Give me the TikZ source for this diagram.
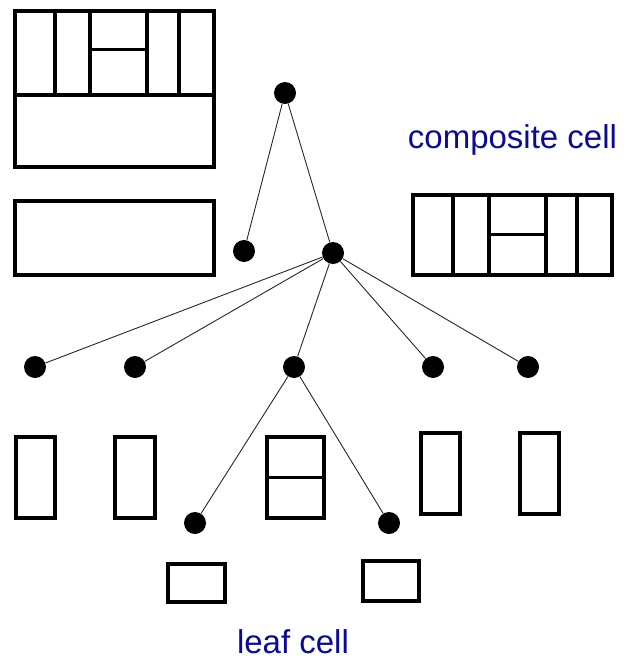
\documentclass[tikz,border=0pt]{standalone}
\usepackage{fontspec}
\setmainfont{Liberation Sans}
\definecolor{labelblue}{RGB}{10,10,150}
\begin{document}
\begin{tikzpicture}[x=1pt,y=-1pt,
  cellwall/.style={line width=4pt, line join=miter},
  cellsplit/.style={line width=3pt},
  dot/.style={circle, fill=black, minimum size=22pt, inner sep=0pt},
  branch/.style={line width=0.9pt, draw=black!85},
  celllabel/.style={text=labelblue, font=\fontsize{33}{36}\selectfont, anchor=base, inner sep=0pt}]
\useasboundingbox (0,0) rectangle (625,664);

% large composite cell, top left
\draw[cellwall] (15,11) rectangle (214,167);
\draw[cellwall] (15,95) -- (214,95);
\foreach \x in {55,90,147,179} \draw[cellwall] (\x,11) -- (\x,95);
\draw[cellsplit] (90,49) -- (147,49);

% plain cell below it
\draw[cellwall] (15,201) rectangle (214,275);

% composite cell, right
\draw[cellwall] (413,195) rectangle (612,275);
\foreach \x in {453,489,546,577} \draw[cellwall] (\x,195) -- (\x,275);
\draw[cellsplit] (489,234) -- (546,234);

% leaf cells of the second level
\draw[cellwall] (16,437) rectangle (55,518);
\draw[cellwall] (115,437) rectangle (155,518);
\draw[cellwall] (267,437) rectangle (324,518);
\draw[cellsplit] (267,477) -- (324,477);
\draw[cellwall] (421,433) rectangle (460,514);
\draw[cellwall] (520,433) rectangle (559,514);

% leaf cells of the third level
\draw[cellwall] (168,564) rectangle (225,602);
\draw[cellwall] (363,561) rectangle (419,601);

% hierarchy tree
\node[dot] (root) at (285,93) {};
\node[dot] (a) at (244,251) {};
\node[dot] (b) at (333,253) {};
\node[dot] (b1) at (35,367) {};
\node[dot] (b2) at (135,367) {};
\node[dot] (b3) at (294,367) {};
\node[dot] (b4) at (433,367) {};
\node[dot] (b5) at (528,367) {};
\node[dot] (c1) at (195,523) {};
\node[dot] (c2) at (389,523) {};

\draw[branch] (root) -- (a);
\draw[branch] (root) -- (b);
\foreach \n in {b1,b2,b3,b4,b5} \draw[branch] (b) -- (\n);
\draw[branch] (b3) -- (c1);
\draw[branch] (b3) -- (c2);

% labels
\node[celllabel] (comp) at (512.5,148) {composite cell};
\node[celllabel] (leaf) at (293,653) {leaf cell};
\end{tikzpicture}
\end{document}
